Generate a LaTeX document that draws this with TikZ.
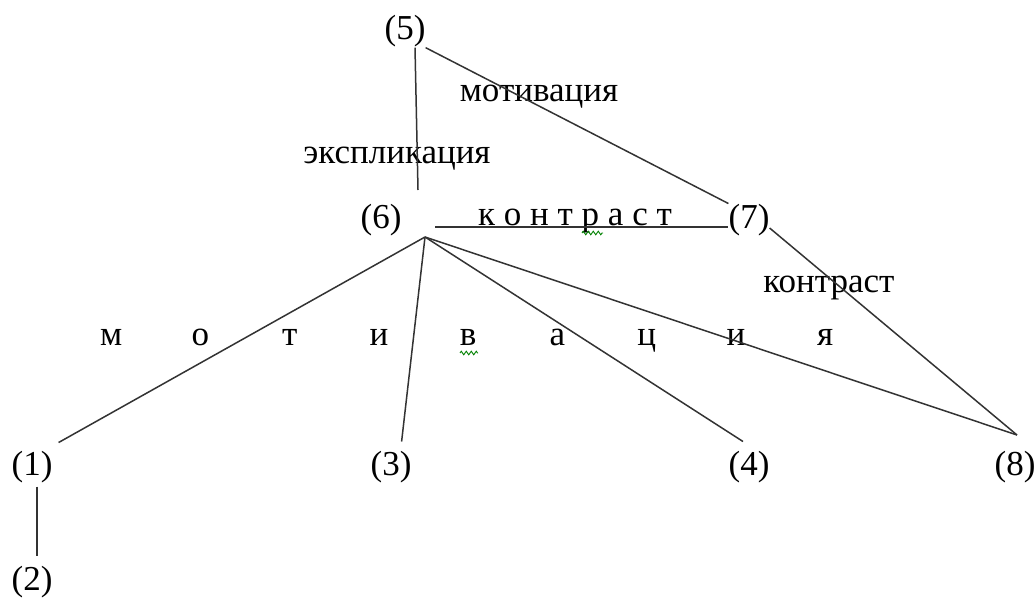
\documentclass[tikz,border=0pt]{standalone}
\usepackage{fontspec}
\setmainfont{Liberation Serif}
\usetikzlibrary{decorations.pathmorphing}
\newcommand{\lsbox}[1]{\makebox[89.25pt]{#1}}
\begin{document}
\begin{tikzpicture}[x=1pt,y=-1pt,
  lbl/.style={inner sep=0pt, anchor=base, font=\fontsize{35}{42}\selectfont},
  conn/.style={line width=1.5pt, draw=black!80},
  squig/.style={draw=green!50!black, line width=0.9pt, decorate,
    decoration={zigzag, segment length=5pt, amplitude=1.8pt}}]
\useasboundingbox (0,0) rectangle (1035,599);
% numbered nodes
\node[lbl] (n5) at (405,40) {(5)};
\node[lbl] (n6) at (381,228) {(6)};
\node[lbl] (n7) at (749,228) {(7)};
\node[lbl] (n1) at (32,475) {(1)};
\node[lbl] (n2) at (32,590) {(2)};
\node[lbl] (n3) at (391,475) {(3)};
\node[lbl] (n4) at (749,475) {(4)};
\node[lbl] (n8) at (1015,475) {(8)};
% labels
\node[lbl] (lmot) at (539,102) {мотивация};
\node[lbl] (lexp) at (397,163) {экспликация};
\node[lbl] (lcon) at (575,225) {к о н т р а с т};
\node[lbl] (lcon2) at (829,292) {контраст};
\node[lbl, anchor=base west] (lmot2) at (66.4,345) {\lsbox{м}\lsbox{о}\lsbox{т}\lsbox{и}\lsbox{в}\lsbox{а}\lsbox{ц}\lsbox{и}\lsbox{я}};
% helper coordinates
\coordinate (h6) at (425,237);
\coordinate (e6) at (418,190);
\coordinate (c6) at (435,227);
\coordinate (p8) at (1017,435);
% connectors
\draw[conn] ([xshift=10pt]n5.south) -- (e6);
\draw[conn] (n5.south east) -- (n7.north west);
\draw[conn] (c6) -- (c6 -| n7.west);
\draw[conn] (n7.base east) -- (p8);
\draw[conn] (h6) -- ([xshift=6pt,yshift=8pt]n1.north east);
\draw[conn] (h6) -- ([xshift=-10pt,yshift=9pt]n3.north east);
\draw[conn] (h6) -- ([xshift=-6pt,yshift=9pt]n4.north);
\draw[conn] (h6) -- (p8);
\draw[conn] ([xshift=5pt,yshift=-4pt]n1.south) -- ([xshift=5pt,yshift=10pt]n2.north);
% spell-check squiggles
\draw[squig] (582,233) -- (603,233);
\draw[squig] (460,353) -- (478,353);
\end{tikzpicture}
\end{document}
